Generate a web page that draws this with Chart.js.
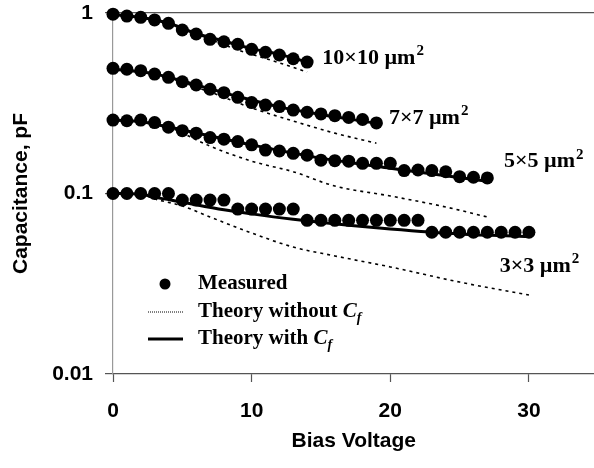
<!DOCTYPE html>
<html>
<head>
<meta charset="utf-8">
<script src="https://cdn.jsdelivr.net/npm/chart.js@4.4.1/dist/chart.umd.min.js"></script>
<style>
  html, body { margin: 0; padding: 0; background: #fff; overflow: hidden; }
  /* a little wider than the window: the plot frame runs off the right edge as in the figure */
  #wrap { width: 601px; height: 468px; position: relative; }
</style>
</head>
<body>
<div id="wrap"><canvas id="capChart"></canvas></div>
<script>
// --- DATA ---
const biasVoltage = [0, 1, 2, 3, 4, 5, 6, 7, 8, 9, 10, 11, 12, 13, 14, 15, 16, 17, 18, 19, 20,
                     21, 22, 23, 24, 25, 26, 27, 28, 29, 30];
const yTicks = [0.01, 0.1, 1];
const xTicks = [0, 10, 20, 30];

// measured capacitance, pF (one value per volt from 0 V)
const meas10 = [0.985, 0.962, 0.946, 0.915, 0.877, 0.805, 0.765, 0.715, 0.693, 0.671, 0.629, 0.606, 0.585, 0.558, 0.535];
const meas7 = [0.494, 0.488, 0.479, 0.459, 0.440, 0.416, 0.399, 0.378, 0.362, 0.341, 0.319, 0.309, 0.303, 0.290, 0.282,
               0.276, 0.270, 0.264, 0.257, 0.246];
const meas5 = [0.255, 0.253, 0.255, 0.247, 0.233, 0.223, 0.216, 0.204, 0.200, 0.194, 0.186, 0.174, 0.172, 0.167, 0.163,
               0.153, 0.152, 0.151, 0.147, 0.147, 0.147, 0.134, 0.135, 0.134, 0.132, 0.124, 0.123, 0.122];
const meas3 = [0.1, 0.1, 0.1, 0.1, 0.1, 0.092, 0.092, 0.092, 0.092, 0.082, 0.082, 0.082, 0.082, 0.082,
               0.071, 0.071, 0.071, 0.071, 0.071, 0.071, 0.071, 0.071, 0.071,
               0.061, 0.061, 0.061, 0.061, 0.061, 0.061, 0.061, 0.061];

// theory with Cf (solid)
const withV10 = [0, 2, 4, 6, 8, 10, 12, 14];
const with10 = [0.98, 0.945, 0.88, 0.77, 0.70, 0.635, 0.59, 0.535];
const withV7 = [0, 3, 6, 9, 12, 15, 19];
const with7 = [0.49, 0.46, 0.40, 0.345, 0.302, 0.274, 0.245];
const withV5 = [0, 2, 5, 10, 15, 20, 27];
const with5 = [0.255, 0.25, 0.225, 0.186, 0.157, 0.138, 0.117];
const withV3 = [0, 2, 3, 5, 8, 10, 13, 17, 20, 25, 30];
const with3 = [0.1, 0.099, 0.0955, 0.0895, 0.0812, 0.0771, 0.072, 0.0667, 0.0636, 0.0597, 0.0577];

// theory without Cf (dotted)
const noV10 = [0, 3, 6, 9, 11, 13, 14];
const no10 = [0.98, 0.915, 0.765, 0.624, 0.56, 0.50, 0.471];
const noV7 = [0, 3, 7, 10, 13, 16, 19];
const no7 = [0.49, 0.459, 0.365, 0.298, 0.252, 0.216, 0.19];
const noV5 = [0, 2, 4, 7, 10, 13, 16, 20, 24, 27];
const no5 = [0.255, 0.252, 0.233, 0.183, 0.151, 0.132, 0.110, 0.0969, 0.0842, 0.0741];
const noV3 = [0, 2, 3, 5, 7, 10, 13, 16, 20, 25, 30];
const no3 = [0.1, 0.099, 0.0933, 0.0853, 0.0741, 0.0604, 0.0505, 0.0451, 0.0392, 0.0323, 0.0274];

const areaLabels = ['10\u00d710 \u00b5m', '7\u00d77 \u00b5m', '5\u00d75 \u00b5m', '3\u00d73 \u00b5m'];

const pts = (xs, ys) => ys.map((y, i) => ({ x: xs[i], y: y }));

function measuredSet(vals) {
    return {
        type: 'scatter', data: pts(biasVoltage, vals), order: 0, clip: false,
        pointRadius: 6.5, pointHoverRadius: 6.5, backgroundColor: '#000', borderWidth: 0, showLine: false
    };
}
function theorySet(xs, vals, dotted) {
    return {
        type: 'line', data: pts(xs, vals), order: 1, clip: false,
        borderColor: '#000', borderWidth: dotted ? 1.6 : 3, borderDash: dotted ? [3, 4] : [],
        pointRadius: 0, cubicInterpolationMode: 'monotone', fill: false
    };
}

const SERIF = '"Liberation Serif", "Times New Roman", serif';
const SANS = '"Liberation Sans", Arial, sans-serif';

// labels + legend drawn on top
const annotate = {
    id: 'annotate',
    afterDatasetsDraw(chart) {
        const { ctx, scales: { x, y } } = chart;
        ctx.save();
        ctx.fillStyle = '#000';
        ctx.textBaseline = 'middle';
        ctx.textAlign = 'left';

        const sup = (txt, px, py) => {
            ctx.font = 'bold 22px ' + SERIF;
            ctx.fillText(txt, px, py);
            const w = ctx.measureText(txt).width;
            ctx.font = 'bold 15px ' + SERIF;
            ctx.fillText('2', px + w + 1, py - 7);
        };
        const anchors = [[15.1, 0.563], [19.9, 0.262], [28.2, 0.150], [27.9, 0.0397]];
        anchors.forEach((a, i) => sup(areaLabels[i], x.getPixelForValue(a[0]), y.getPixelForValue(a[1])));

        // legend
        const lx = 198;
        ctx.beginPath();
        ctx.arc(165, 284, 5.5, 0, Math.PI * 2);
        ctx.fill();
        ctx.font = 'bold 21px ' + SERIF;
        ctx.fillText('Measured', lx, 284);

        ctx.strokeStyle = '#000';
        ctx.lineWidth = 1;
        ctx.setLineDash([1, 1]);
        ctx.beginPath(); ctx.moveTo(148, 312); ctx.lineTo(183, 312); ctx.stroke();
        ctx.setLineDash([]);
        ctx.lineWidth = 3;
        ctx.beginPath(); ctx.moveTo(148, 339); ctx.lineTo(183, 339); ctx.stroke();

        const cf = (pre, py) => {
            ctx.font = 'bold 21px ' + SERIF;
            ctx.fillText(pre, lx, py);
            let px = lx + ctx.measureText(pre).width;
            ctx.font = 'italic bold 21px ' + SERIF;
            ctx.fillText('C', px, py);
            px += ctx.measureText('C').width;
            ctx.font = 'italic bold 14px ' + SERIF;
            ctx.fillText('f', px, py + 6);
        };
        cf('Theory without ', 312);
        cf('Theory with ', 339);
        ctx.restore();
    }
};

new Chart(document.getElementById('capChart'), {
    type: 'scatter',
    data: {
        datasets: [
            measuredSet(meas10), measuredSet(meas7), measuredSet(meas5), measuredSet(meas3),
            theorySet(withV10, with10, false), theorySet(withV7, with7, false),
            theorySet(withV5, with5, false), theorySet(withV3, with3, false),
            theorySet(noV10, no10, true), theorySet(noV7, no7, true),
            theorySet(noV5, no5, true), theorySet(noV3, no3, true)
        ]
    },
    options: {
        responsive: true,
        maintainAspectRatio: false,
        animation: false,
        layout: { padding: { top: 13, right: 0, bottom: 0, left: 0 } },
        plugins: { legend: { display: false }, tooltip: { enabled: false } },
        scales: {
            x: {
                type: 'linear', min: 0, max: 34.73,
                afterFit: s => { s.height = 94; },
                afterBuildTicks: s => { s.ticks = xTicks.map(v => ({ value: v })); },
                border: { display: true, color: '#555', width: 1.2 },
                grid: { drawOnChartArea: false, drawTicks: true, tickLength: 8, tickColor: '#555', tickWidth: 1.2 },
                ticks: { color: '#000', padding: 17, font: { family: SANS, size: 21, weight: 'bold' } },
                title: {
                    display: true, text: 'Bias Voltage', color: '#000',
                    padding: { top: 0, bottom: 14 }, font: { family: SANS, size: 21, weight: 'bold' }
                }
            },
            y: {
                type: 'logarithmic', min: 0.01, max: 1,
                afterFit: s => { s.width = 113; s.paddingTop = 0; s.paddingBottom = 0; },
                afterBuildTicks: s => { s.ticks = yTicks.map(v => ({ value: v })); },
                border: { display: true, color: '#999', width: 1.2 },
                grid: {
                    drawOnChartArea: true, drawTicks: true, tickLength: 8, tickColor: '#555',
                    color: c => (c.tick && c.tick.value === 1 ? '#555' : 'rgba(0,0,0,0)'), lineWidth: 1.2
                },
                ticks: {
                    color: '#000', padding: 12, font: { family: SANS, size: 21, weight: 'bold' },
                    callback: v => String(v)
                },
                title: {
                    display: true, text: 'Capacitance, pF', color: '#000',
                    padding: { top: 9, bottom: 0 }, font: { family: SANS, size: 21, weight: 'bold' }
                }
            }
        }
    },
    plugins: [annotate]
});
</script>
</body>
</html>
